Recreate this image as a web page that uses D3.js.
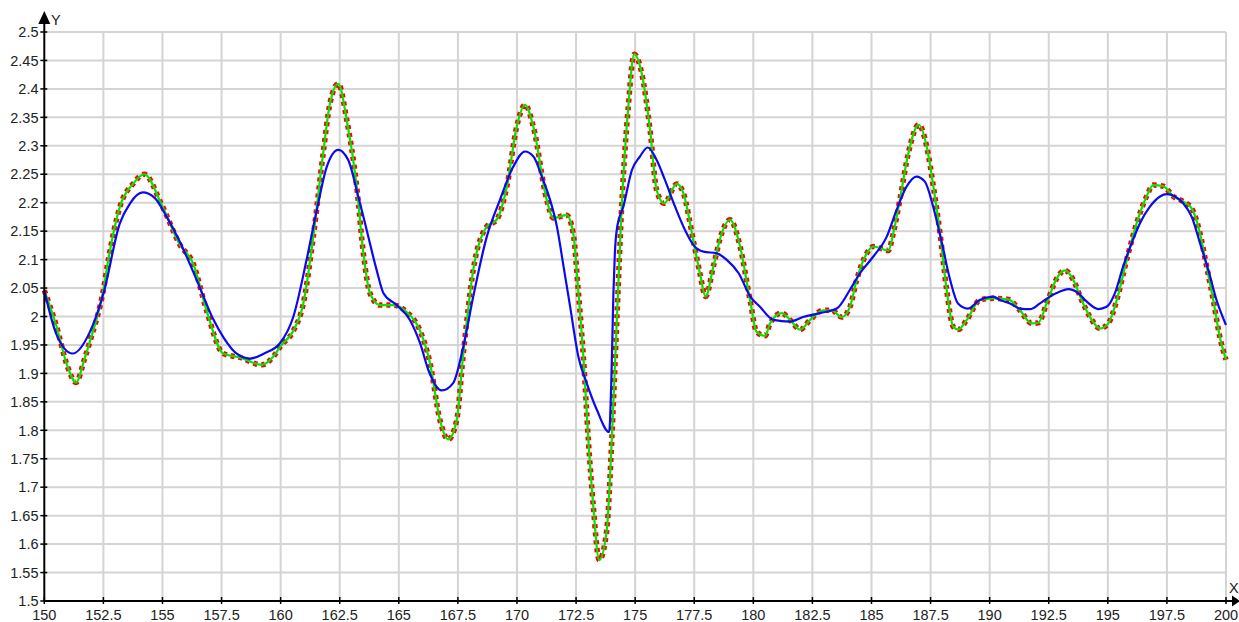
<!DOCTYPE html>
<html>
<head>
<meta charset="utf-8">
<script src="https://cdn.jsdelivr.net/npm/d3@7"></script>
<style>
  html, body { margin: 0; padding: 0; background: #fff; }
  svg { display: block; }
  text { font-family: "Liberation Sans", Arial, sans-serif; font-size: 14.5px; fill: #222; }
</style>
</head>
<body>
<svg id="chart" width="1239" height="622"></svg>
<script>
// Tick values and their labels
const xTicks = [150, 152.5, 155, 157.5, 160, 162.5, 165, 167.5, 170, 172.5, 175, 177.5, 180, 182.5, 185, 187.5, 190, 192.5, 195, 197.5, 200];
const xTickLabels = ["150", "152.5", "155", "157.5", "160", "162.5", "165", "167.5", "170", "172.5", "175", "177.5", "180", "182.5", "185", "187.5", "190", "192.5", "195", "197.5", "200"];
const yTicks = [1.5, 1.55, 1.6, 1.65, 1.7, 1.75, 1.8, 1.85, 1.9, 1.95, 2.0, 2.05, 2.1, 2.15, 2.2, 2.25, 2.3, 2.35, 2.4, 2.45, 2.5];
const yTickLabels = ["1.5", "1.55", "1.6", "1.65", "1.7", "1.75", "1.8", "1.85", "1.9", "1.95", "2", "2.05", "2.1", "2.15", "2.2", "2.25", "2.3", "2.35", "2.4", "2.45", "2.5"];

// Signal samples (drawn as red dashed + green line)
const signalX = [150.0, 150.5, 151.0, 151.34, 151.7, 151.93, 152.5, 152.71, 153.2, 153.77, 154.23, 154.97, 155.74, 156.3, 156.87, 157.57, 158.28, 159.2, 159.7, 160.0, 160.54, 160.96, 161.38, 161.8, 162.09, 162.44, 162.8, 163.22, 163.5, 163.78, 164.2, 164.77, 165.33, 165.89, 166.32, 166.74, 167.09, 167.45, 167.73, 168.15, 168.72, 169.14, 169.57, 169.99, 170.34, 170.69, 171.26, 171.54, 172.1, 172.38, 172.59, 172.81, 173.02, 173.23, 173.48, 173.8, 174.01, 174.22, 174.43, 174.71, 174.96, 175.28, 175.63, 175.91, 176.23, 176.76, 177.04, 177.46, 177.74, 177.98, 178.31, 178.66, 179.01, 179.44, 179.86, 180.14, 180.5, 180.71, 181.2, 181.62, 181.98, 182.4, 182.96, 183.32, 183.74, 184.09, 184.37, 184.8, 185.08, 185.71, 185.92, 186.2, 186.56, 187.0, 187.34, 187.62, 187.9, 188.18, 188.46, 188.67, 189.03, 189.59, 190.15, 190.79, 191.28, 191.78, 192.06, 192.41, 192.84, 193.19, 193.54, 193.89, 194.25, 194.67, 195.02, 195.38, 195.8, 196.22, 196.64, 196.92, 197.35, 197.77, 198.19, 198.55, 198.9, 199.18, 199.46, 199.74, 200.0];
const signalY = [2.046, 1.985, 1.91, 1.884, 1.925, 1.956, 2.047, 2.1, 2.193, 2.234, 2.25, 2.196, 2.126, 2.093, 2.01, 1.935, 1.928, 1.915, 1.93, 1.948, 1.975, 2.023, 2.14, 2.287, 2.375, 2.409, 2.345, 2.228, 2.111, 2.041, 2.02, 2.02, 2.008, 1.976, 1.918, 1.818, 1.784, 1.818, 1.935, 2.082, 2.158, 2.17, 2.228, 2.334, 2.372, 2.334, 2.205, 2.173, 2.178, 2.146, 2.047, 1.929, 1.783, 1.666, 1.572, 1.625, 1.783, 1.988, 2.193, 2.369, 2.461, 2.427, 2.328, 2.222, 2.199, 2.233, 2.217, 2.134, 2.076, 2.035, 2.088, 2.146, 2.17, 2.123, 2.029, 1.973, 1.966, 1.988, 2.006, 1.991, 1.977, 1.994, 2.011, 2.011, 1.999, 2.017, 2.064, 2.111, 2.123, 2.116, 2.146, 2.205, 2.287, 2.337, 2.298, 2.228, 2.146, 2.047, 1.982, 1.977, 1.994, 2.029, 2.032, 2.03, 2.011, 1.988, 1.989, 2.023, 2.067, 2.081, 2.064, 2.029, 1.999, 1.979, 1.988, 2.029, 2.1, 2.164, 2.211, 2.231, 2.229, 2.211, 2.202, 2.19, 2.146, 2.088, 2.029, 1.964, 1.924];

// Smoothed curve (blue)
const smoothX = [150.0, 150.5, 151.2, 151.93, 152.5, 153.2, 153.63, 154.16, 154.68, 155.18, 155.74, 156.45, 157.15, 157.6, 158.1, 158.7, 159.3, 159.97, 160.54, 161.1, 161.53, 161.95, 162.44, 162.86, 163.29, 163.64, 164.06, 164.35, 164.91, 165.47, 165.9, 166.25, 166.81, 167.3, 167.73, 168.15, 168.72, 169.28, 169.84, 170.34, 170.7, 171.05, 171.4, 171.69, 171.97, 172.25, 172.6, 172.95, 173.38, 173.9, 174.0, 174.08, 174.14, 174.25, 174.5, 174.86, 175.2, 175.53, 175.91, 176.26, 176.69, 177.11, 177.46, 177.89, 178.46, 178.89, 179.38, 179.87, 180.28, 180.85, 181.55, 182.11, 182.82, 183.53, 184.09, 184.51, 185.07, 185.64, 186.06, 186.48, 186.9, 187.26, 187.61, 187.98, 188.33, 188.66, 189.08, 189.58, 190.15, 190.44, 190.86, 191.28, 191.71, 192.13, 192.55, 192.98, 193.33, 193.75, 194.11, 194.6, 194.95, 195.3, 195.65, 196.01, 196.36, 196.78, 197.21, 197.49, 197.84, 198.19, 198.55, 198.9, 199.25, 199.6, 200.0];
const smoothY = [2.046, 1.97, 1.935, 1.973, 2.04, 2.164, 2.199, 2.218, 2.208, 2.175, 2.131, 2.064, 1.995, 1.962, 1.936, 1.926, 1.935, 1.953, 2.0, 2.1, 2.187, 2.263, 2.293, 2.275, 2.21, 2.152, 2.082, 2.041, 2.02, 1.994, 1.953, 1.906, 1.87, 1.883, 1.947, 2.035, 2.14, 2.205, 2.263, 2.29, 2.281, 2.246, 2.205, 2.158, 2.088, 2.017, 1.929, 1.883, 1.836, 1.797, 1.9, 2.04, 2.11, 2.16, 2.193, 2.257, 2.281, 2.297, 2.275, 2.24, 2.193, 2.152, 2.126, 2.114, 2.111, 2.099, 2.076, 2.035, 2.017, 1.994, 1.991, 1.999, 2.006, 2.014, 2.047, 2.076, 2.105, 2.14, 2.187, 2.228, 2.246, 2.237, 2.193, 2.129, 2.064, 2.023, 2.014, 2.029, 2.035, 2.029, 2.023, 2.014, 2.013, 2.023, 2.035, 2.044, 2.048, 2.041, 2.026, 2.013, 2.017, 2.041, 2.088, 2.129, 2.164, 2.193, 2.211, 2.215, 2.211, 2.199, 2.175, 2.129, 2.082, 2.029, 1.985];

const svg = d3.select("#chart");

const x = d3.scaleLinear().domain([150, 200]).range([44.3, 1226]);
const y = d3.scaleLinear().domain([1.5, 2.5]).range([601, 32]);

// grid
const grid = svg.append("g").attr("stroke", "#d4d4d4").attr("stroke-width", 2);
grid.selectAll("line.v").data(xTicks.slice(1)).join("line")
  .attr("x1", d => x(d)).attr("x2", d => x(d))
  .attr("y1", y(2.5)).attr("y2", y(1.5));
grid.selectAll("line.h").data(yTicks.slice(1)).join("line")
  .attr("x1", x(150)).attr("x2", x(200))
  .attr("y1", d => y(d)).attr("y2", d => y(d));

// series
const signal = signalX.map((v, i) => [v, signalY[i]]);
const smooth = smoothX.map((v, i) => [v, smoothY[i]]);
const line = d3.line().x(d => x(d[0])).y(d => y(d[1])).curve(d3.curveMonotoneX);

const plot = svg.append("g");
plot.append("path").datum(signal).attr("d", line)
  .attr("fill", "none").attr("stroke", "#ff0000").attr("stroke-width", 5.5)
  .attr("stroke-dasharray", "4,4");
plot.append("path").datum(signal).attr("d", line)
  .attr("fill", "none").attr("stroke", "#00e600").attr("stroke-width", 2.2)
  .attr("stroke-linejoin", "round");
plot.append("path").datum(smooth).attr("d", line)
  .attr("fill", "none").attr("stroke", "#0a0af0").attr("stroke-width", 2.2)
  .attr("stroke-linejoin", "round");

// axes
const ax = svg.append("g").attr("stroke", "#000");
ax.append("line").attr("x1", x(150)).attr("x2", 1233).attr("y1", y(1.5)).attr("y2", y(1.5)).attr("stroke-width", 2);
ax.append("line").attr("x1", x(150)).attr("x2", x(150)).attr("y1", y(1.5)).attr("y2", 22).attr("stroke-width", 2);
ax.selectAll("line.xt").data(xTicks).join("line")
  .attr("x1", d => x(d)).attr("x2", d => x(d))
  .attr("y1", y(1.5) - 4).attr("y2", y(1.5) + 3).attr("stroke-width", 1.5);
ax.selectAll("line.yt").data(yTicks).join("line")
  .attr("x1", x(150) - 4).attr("x2", x(150) + 3)
  .attr("y1", d => y(d)).attr("y2", d => y(d)).attr("stroke-width", 1.5);

// arrow heads
svg.append("path").attr("d", `M${x(150) - 6},24 L${x(150)},11 L${x(150) + 6},24 Z`).attr("fill", "#000");
svg.append("path").attr("d", `M1232,${y(1.5) - 5.5} L1240,${y(1.5)} L1232,${y(1.5) + 5.5} Z`).attr("fill", "#000");

// tick labels
svg.append("g").selectAll("text").data(xTicks).join("text")
  .attr("x", d => x(d)).attr("y", 620)
  .attr("text-anchor", "middle")
  .text((d, i) => xTickLabels[i]);
svg.append("g").selectAll("text").data(yTicks).join("text")
  .attr("x", 38.5).attr("y", d => y(d) + 5.2)
  .attr("text-anchor", "end")
  .text((d, i) => yTickLabels[i]);

// axis names
svg.append("text").attr("x", 51).attr("y", 25).text("Y");
svg.append("text").attr("x", 1229).attr("y", 593).attr("font-size", "13px").text("X");
</script>
</body>
</html>
